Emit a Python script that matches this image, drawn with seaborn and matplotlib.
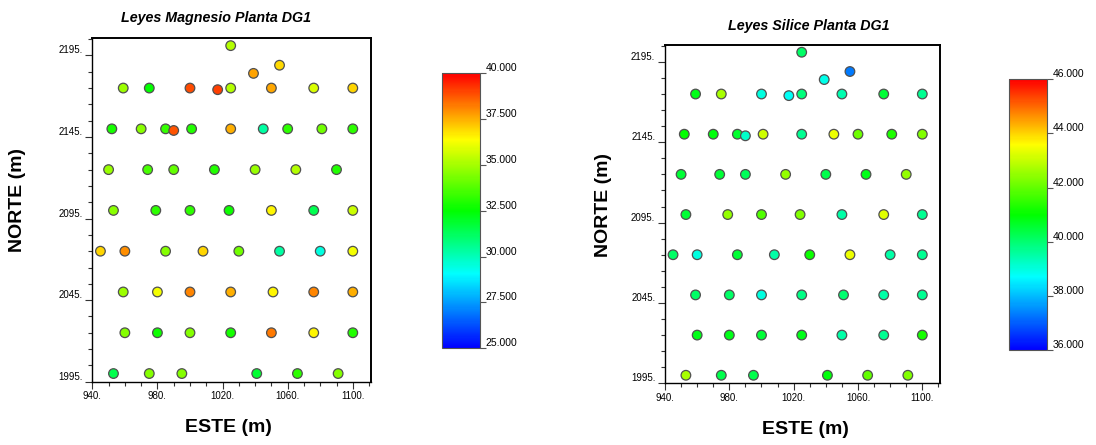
import numpy as np
import matplotlib
matplotlib.use("Agg")
import matplotlib.pyplot as plt
from matplotlib.colors import LinearSegmentedColormap, Normalize
from matplotlib.cm import ScalarMappable
from matplotlib.ticker import MultipleLocator, FuncFormatter, FixedLocator
import seaborn as sns

# ---------------- data ----------------
este = [1025, 1039, 1055,
        959, 975, 1000, 1017, 1025, 1050, 1076, 1100,
        952, 970, 985, 990, 1001, 1025, 1045, 1060, 1081, 1100,
        950, 974, 990, 1015, 1040, 1065, 1090,
        953, 979, 1000, 1024, 1050, 1076, 1100,
        945, 960, 985, 1008, 1030, 1055, 1080, 1100,
        959, 980, 1000, 1025, 1051, 1076, 1100,
        960, 980, 1000, 1025, 1050, 1076, 1100,
        953, 975, 995, 1041, 1066, 1091]
norte = [2201, 2184, 2189,
         2175, 2175, 2175, 2174, 2175, 2175, 2175, 2175,
         2150, 2150, 2150, 2149, 2150, 2150, 2150, 2150, 2150, 2150,
         2125, 2125, 2125, 2125, 2125, 2125, 2125,
         2100, 2100, 2100, 2100, 2100, 2100, 2100,
         2075, 2075, 2075, 2075, 2075, 2075, 2075, 2075,
         2050, 2050, 2050, 2050, 2050, 2050, 2050,
         2025, 2025, 2025, 2025, 2025, 2025, 2025,
         2000, 2000, 2000, 2000, 2000, 2000]
magnesio = [35.2, 37.7, 36.9,
            34.9, 32.5, 38.9, 39.1, 35.2, 37.6, 35.8, 37.0,
            32.8, 34.6, 33.3, 38.8, 33.0, 37.5, 30.3, 33.2, 34.2, 33.2,
            34.8, 33.6, 34.0, 33.0, 34.8, 35.2, 33.0,
            34.6, 33.2, 33.2, 32.7, 36.5, 31.4, 35.6,
            37.0, 38.0, 34.5, 37.0, 34.2, 30.3, 29.5, 36.2,
            34.9, 36.2, 38.1, 37.5, 36.5, 38.1, 37.5,
            34.5, 32.7, 34.5, 32.8, 38.3, 36.5, 33.0,
            31.5, 34.5, 34.5, 31.8, 33.2, 34.5]
silice = [40.1, 38.9, 37.3,
          40.8, 42.7, 39.0, 38.8, 39.9, 39.4, 40.5, 39.7,
          41.0, 40.9, 40.6, 39.2, 43.1, 39.7, 43.4, 42.1, 41.3, 42.3,
          40.5, 40.5, 40.2, 42.5, 40.3, 40.8, 42.5,
          40.5, 42.5, 41.8, 42.3, 39.5, 43.3, 39.7,
          40.1, 39.0, 40.5, 39.5, 41.1, 43.4, 39.5, 39.7,
          40.1, 40.1, 39.0, 39.8, 40.0, 39.5, 39.7,
          40.8, 40.8, 40.5, 40.8, 39.5, 39.7, 41.2,
          42.7, 40.3, 40.3, 40.9, 42.0, 42.3]

mg_ticks = [25.0, 27.5, 30.0, 32.5, 35.0, 37.5, 40.0]
si_ticks = [36.0, 38.0, 40.0, 42.0, 44.0, 46.0]
x_major = [940, 980, 1020, 1060, 1100]
y_major = [1995, 2045, 2095, 2145, 2195]

titles = ["Leyes Magnesio Planta DG1", "Leyes Silice Planta DG1"]

# ---------------- style ----------------
sns.set_style("ticks")
plt.rcParams["font.family"] = ["Liberation Sans", "DejaVu Sans"]
plt.rcParams["text.color"] = "black"
plt.rcParams["axes.labelcolor"] = "black"
plt.rcParams["xtick.color"] = "black"
plt.rcParams["ytick.color"] = "black"

cmap = LinearSegmentedColormap.from_list(
    "surfer",
    [(0.0, "#0000ff"), (0.27, "#00ffff"), (0.5, "#00ff00"),
     (0.76, "#ffff00"), (1.0, "#ff0000")])

fig = plt.figure(figsize=(10.96, 4.45), dpi=100)
W, H = 1096.0, 445.0

def box(x0, y0, x1, y1):
    return [x0 / W, 1 - y1 / H, (x1 - x0) / W, (y1 - y0) / H]

ax_specs = [
    dict(ax=box(92.3, 38.3, 370.7, 381.7), cb=box(441.7, 73.3, 480.0, 348.3),
         vals=magnesio, lim=(25, 40), ticks=mg_ticks,
         title_xy=(216, 18), norte_xy=(18, 200), este_xy=(228, 428)),
    dict(ax=box(665.0, 45.0, 940.0, 383.3), cb=box(1009.3, 79.3, 1047.3, 350.0),
         vals=silice, lim=(36, 46), ticks=si_ticks,
         title_xy=(809, 26), norte_xy=(603, 205), este_xy=(805, 430)),
]

for spec, title in zip(ax_specs, titles):
    ax = fig.add_axes(spec["ax"])
    norm = Normalize(*spec["lim"])
    sns.scatterplot(x=este, y=norte, hue=spec["vals"], palette=cmap,
                    hue_norm=norm, legend=False, s=48,
                    edgecolor="#505050", linewidth=0.9, ax=ax, zorder=3)
    ax.set_xlim(940, 1111)
    ax.set_ylim(1995, 2205.5)
    ax.set_xlabel("")
    ax.set_ylabel("")
    ax.xaxis.set_major_locator(FixedLocator(x_major))
    ax.yaxis.set_major_locator(FixedLocator(y_major))
    ax.xaxis.set_minor_locator(MultipleLocator(10))
    ax.yaxis.set_minor_locator(MultipleLocator(10, offset=5))
    fmt = FuncFormatter(lambda v, p: f"{int(round(v))}.")
    ax.xaxis.set_major_formatter(fmt)
    ax.yaxis.set_major_formatter(fmt)
    ax.tick_params(which="major", direction="out", length=5, width=0.8,
                   labelsize=7, color="#333333", labelcolor="black", pad=2)
    ax.tick_params(which="minor", direction="out", length=3, width=0.8,
                   color="#333333")
    for lab in ax.get_yticklabels():
        lab.set_verticalalignment("bottom")
    for s in ax.spines.values():
        s.set_visible(True)
        s.set_linewidth(1.4)
        s.set_color("black")
    ax.spines["left"].set_linewidth(1.0)
    ax.spines["bottom"].set_linewidth(1.0)

    # colorbar
    cax = fig.add_axes(spec["cb"])
    sm = ScalarMappable(norm=norm, cmap=cmap)
    cb = fig.colorbar(sm, cax=cax, ticks=spec["ticks"])
    cb.ax.yaxis.set_major_formatter(FuncFormatter(lambda v, p: f"{v:.3f}"))
    cb.ax.tick_params(direction="out", length=4, width=0.8, color="#555555",
                      labelsize=7.5, labelcolor="black", pad=0)
    for lab in cb.ax.get_yticklabels():
        lab.set_verticalalignment("bottom")
    cb.outline.set_linewidth(0.8)
    cb.outline.set_edgecolor("#555555")

    tx, ty = spec["title_xy"]
    fig.text(tx / W, 1 - ty / H, title, ha="center", va="center",
             fontsize=10.3, fontweight="bold", fontstyle="italic", color="black")
    nx, ny = spec["norte_xy"]
    fig.text(nx / W, 1 - ny / H, "NORTE (m)", ha="center", va="center",
             rotation=90, fontsize=14, fontweight="bold", color="black")
    ex, ey = spec["este_xy"]
    fig.text(ex / W, 1 - ey / H, "ESTE (m)", ha="center", va="center",
             fontsize=14, fontweight="bold", color="black")

fig.savefig("out.png", dpi=100)
